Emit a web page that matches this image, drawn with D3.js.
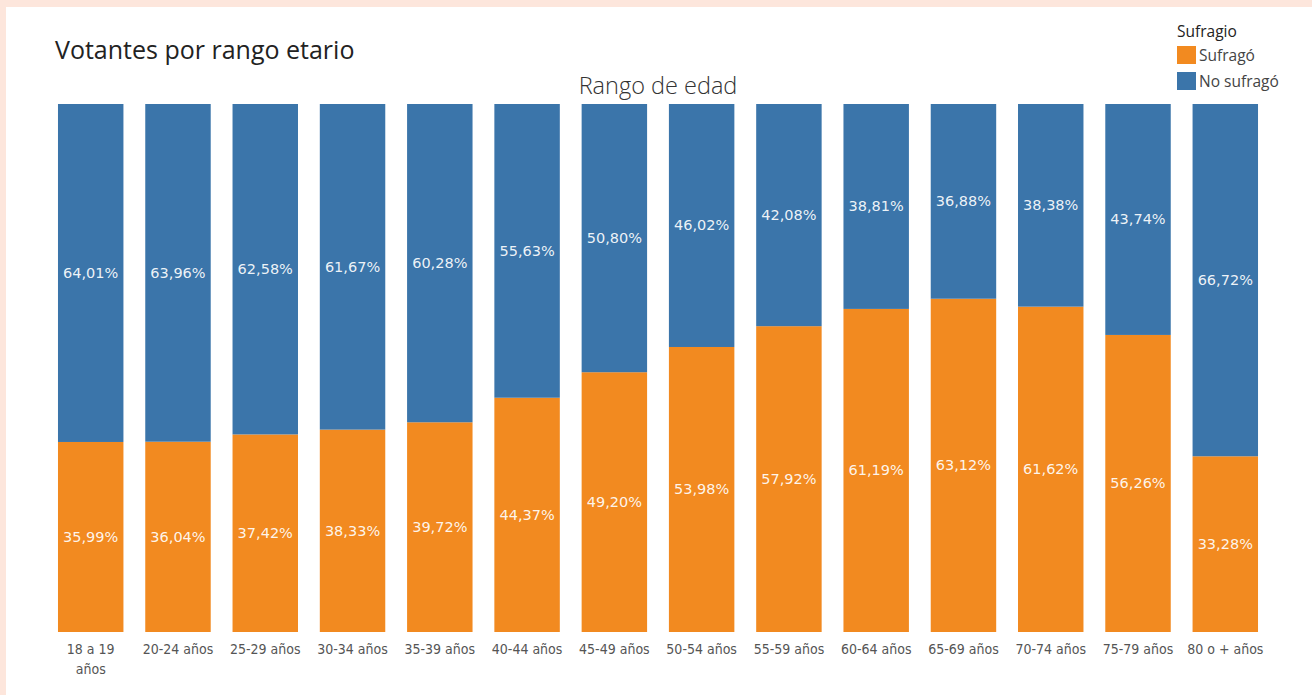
<!DOCTYPE html>
<html>
<head>
<meta charset="utf-8">
<script src="https://cdn.jsdelivr.net/npm/d3@7"></script>
<style>
  body { margin: 0; background: #fde6dc; }
  #chart { position: absolute; left: 6px; top: 7px; width: 1306px; height: 688px; background: #fff; }
  svg { display: block; }
</style>
</head>
<body>
<div id="chart"></div>
<script>
// rangos de edad
const categories = ["18 a 19 años", "20-24 años", "25-29 años", "30-34 años", "35-39 años", "40-44 años",
    "45-49 años", "50-54 años", "55-59 años", "60-64 años", "65-69 años", "70-74 años", "75-79 años", "80 o + años"];
const sufrago = [35.99, 36.04, 37.42, 38.33, 39.72, 44.37, 49.20, 53.98, 57.92, 61.19, 63.12, 61.62, 56.26, 33.28];
const noSufrago = [64.01, 63.96, 62.58, 61.67, 60.28, 55.63, 50.80, 46.02, 42.08, 38.81, 36.88, 38.38, 43.74, 66.72];
const seriesNames = ["Sufragó", "No sufragó"];
const colors = ["#f28a20", "#3b75aa"];

const width = 1306, height = 688;
const svg = d3.select("#chart").append("svg")
    .attr("width", width)
    .attr("height", height);

// coordenadas relativas al panel blanco (offset 6,7)
const plotLeft = 45, plotRight = 1259, plotTop = 97, plotBottom = 625;

const x = d3.scaleBand()
    .domain(categories)
    .range([plotLeft, plotRight])
    .paddingInner(0.25)
    .paddingOuter(0.08);

const y = d3.scaleLinear()
    .domain([0, 100])
    .range([plotBottom, plotTop]);

const color = d3.scaleOrdinal().domain(seriesNames).range(colors);

const table = categories.map((c, i) => ({ cat: c, "Sufragó": sufrago[i], "No sufragó": noSufrago[i] }));
const stacked = d3.stack().keys(seriesNames)(table);

const fmt = v => d3.format(".2f")(v).replace(".", ",") + "%";

const groups = svg.append("g")
    .selectAll("g")
    .data(stacked)
    .enter().append("g")
    .attr("fill", d => color(d.key));

groups.selectAll("rect")
    .data(d => d)
    .enter().append("rect")
    .attr("x", d => x(d.data.cat))
    .attr("y", d => y(d[1]))
    .attr("width", x.bandwidth())
    .attr("height", d => y(d[0]) - y(d[1]));

groups.selectAll("text")
    .data(d => d)
    .enter().append("text")
    .attr("x", d => x(d.data.cat) + x.bandwidth() / 2)
    .attr("y", d => (y(d[0]) + y(d[1])) / 2 + 5)
    .attr("text-anchor", "middle")
    .attr("font-family", "'DejaVu Sans', sans-serif")
    .attr("font-size", "14.5px")
    .attr("fill", "#fff")
    .attr("fill-opacity", 0.92)
    .text(d => fmt(d[1] - d[0]));

// etiquetas del eje x
const xAxis = svg.append("g")
    .attr("transform", `translate(0,${plotBottom})`)
    .call(d3.axisBottom(x).tickSize(0).tickPadding(12));
xAxis.select(".domain").remove();
xAxis.selectAll("text")
    .attr("font-family", "'DejaVu Sans Condensed', 'DejaVu Sans', sans-serif")
    .attr("font-size", "14px")
    .attr("fill", "#555")
    .each(function(d) {
        if (d === "18 a 19 años") {
            const t = d3.select(this);
            t.text(null);
            t.append("tspan").attr("x", 0).attr("dy", "0.71em").text("18 a 19");
            t.append("tspan").attr("x", 0).attr("dy", "1.45em").text("años");
            t.attr("dy", null);
        }
    });

// títulos
svg.append("text")
    .attr("x", 49)
    .attr("y", 52)
    .attr("font-family", "'Open Sans', sans-serif")
    .attr("font-size", "25px")
    .attr("fill", "#222")
    .text("Votantes por rango etario");

svg.append("text")
    .attr("x", (plotLeft + plotRight) / 2)
    .attr("y", 87)
    .attr("text-anchor", "middle")
    .attr("font-family", "'Open Sans', sans-serif")
    .attr("font-weight", 300)
    .attr("font-size", "23.5px")
    .attr("fill", "#333")
    .text("Rango de edad");

// leyenda
const legend = svg.append("g").attr("transform", "translate(1171,0)");
legend.append("text")
    .attr("x", 0)
    .attr("y", 30)
    .attr("font-family", "'Open Sans', sans-serif")
    .attr("font-size", "15.5px")
    .attr("fill", "#222")
    .text("Sufragio");

const items = legend.selectAll("g.item")
    .data(seriesNames)
    .enter().append("g")
    .attr("class", "item")
    .attr("transform", (d, i) => `translate(0,${39 + i * 26})`);
items.append("rect")
    .attr("width", 19)
    .attr("height", 18)
    .attr("fill", d => color(d));
items.append("text")
    .attr("x", 22)
    .attr("y", 15)
    .attr("font-family", "'Open Sans', sans-serif")
    .attr("font-size", "15.5px")
    .attr("fill", "#444")
    .text(d => d);
</script>
</body>
</html>
